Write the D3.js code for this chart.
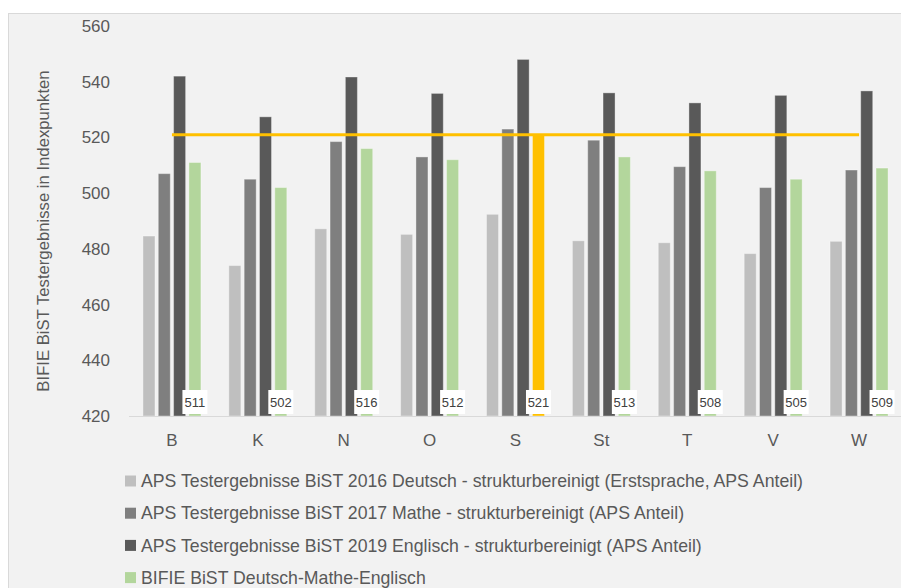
<!DOCTYPE html>
<html>
<head>
<meta charset="utf-8">
<script src="https://d3js.org/d3.v7.min.js"></script>
<style>
  html, body { margin: 0; padding: 0; background: #fff; }
  svg text { font-family: "Liberation Sans", Arial, sans-serif; }
</style>
</head>
<body>
<div id="chart"></div>
<script>
// data
const categories = ["B", "K", "N", "O", "S", "St", "T", "V", "W"];
const deutsch2016 = [484.6, 474.0, 487.2, 485.2, 492.4, 482.9, 482.2, 478.3, 482.7];
const mathe2017 = [507.0, 505.0, 518.5, 513.0, 523.0, 519.0, 509.5, 502.0, 508.3];
const englisch2019 = [542.0, 527.4, 541.7, 535.8, 548.0, 536.0, 532.4, 535.1, 536.7];
const bifie = [511, 502, 516, 512, 521, 513, 508, 505, 509];
const yTicks = [420, 440, 460, 480, 500, 520, 540, 560];
const highlight = "S";
const referenceValue = 521;

const seriesNames = [
  "APS Testergebnisse BiST 2016 Deutsch - strukturbereinigt (Erstsprache, APS Anteil)",
  "APS Testergebnisse BiST 2017 Mathe - strukturbereinigt (APS Anteil)",
  "APS Testergebnisse BiST 2019 Englisch - strukturbereinigt (APS Anteil)",
  "BIFIE BiST Deutsch-Mathe-Englisch"
];
const seriesColors = ["#bfbfbf", "#7f7f7f", "#595959", "#b3d69c"];
const highlightColor = "#ffc000";

const seriesValues = [deutsch2016, mathe2017, englisch2019, bifie];

const width = 901, height = 588;
const plot = { left: 129, right: 902, top: 26, bottom: 416 };

const svg = d3.select("#chart").append("svg")
  .attr("width", width)
  .attr("height", height);

// chart area background
svg.append("rect")
  .attr("x", 8.5).attr("y", 13.5)
  .attr("width", 920).attr("height", 600)
  .attr("fill", "#f2f2f2")
  .attr("stroke", "#d9d9d9");

const x0 = d3.scaleBand()
  .domain(categories)
  .range([plot.left, plot.right])
  .paddingInner(0.325)
  .paddingOuter(0.1625);

const x1 = d3.scaleBand()
  .domain(d3.range(seriesValues.length))
  .range([0, x0.bandwidth()])
  .paddingInner(0.216);

const y = d3.scaleLinear()
  .domain([420, 560])
  .range([plot.bottom, plot.top]);

// y axis labels
const yAxis = svg.append("g")
  .attr("transform", `translate(${plot.left}, 0)`)
  .call(d3.axisLeft(y).tickValues(yTicks).tickSize(0).tickPadding(19));
yAxis.select(".domain").remove();
yAxis.selectAll("text")
  .attr("fill", "#595959")
  .style("font-size", "17px");

// bars
const rows = categories.map((c, i) => ({ cat: c, values: seriesValues.map(s => s[i]) }));

const groups = svg.selectAll(".group")
  .data(rows)
  .enter().append("g")
  .attr("class", "group")
  .attr("transform", d => `translate(${x0(d.cat)}, 0)`);

groups.selectAll("rect")
  .data(d => d.values.map((v, k) => ({ cat: d.cat, k: k, v: v })))
  .enter().append("rect")
  .attr("x", d => x1(d.k))
  .attr("y", d => y(d.v))
  .attr("width", x1.bandwidth())
  .attr("height", d => y(420) - y(d.v))
  .attr("fill", d => (d.k === 3 && d.cat === highlight) ? highlightColor : seriesColors[d.k])
  .attr("stroke", "rgba(255,255,255,0.35)")
  .attr("stroke-width", 1);

// x axis line
svg.append("line")
  .attr("x1", plot.left).attr("x2", plot.right)
  .attr("y1", plot.bottom + 0.5).attr("y2", plot.bottom + 0.5)
  .attr("stroke", "#d9d9d9");

// x axis labels
const xAxis = svg.append("g")
  .attr("transform", `translate(0, ${plot.bottom})`)
  .call(d3.axisBottom(x0).tickSize(0).tickPadding(18));
xAxis.select(".domain").remove();
xAxis.selectAll("text")
  .attr("fill", "#595959")
  .style("font-size", "17px");

// reference line at the highlighted value
const xc = d => x0(d) + x0.bandwidth() / 2;
svg.append("line")
  .attr("x1", xc(categories[0]))
  .attr("x2", xc(categories[categories.length - 1]))
  .attr("y1", y(referenceValue))
  .attr("y2", y(referenceValue))
  .attr("stroke", highlightColor)
  .attr("stroke-width", 3);

// data labels for the BIFIE series
const labels = svg.selectAll(".dlabel")
  .data(categories.map((c, i) => ({ cat: c, v: bifie[i] })))
  .enter().append("g")
  .attr("class", "dlabel")
  .attr("transform", d => `translate(${x0(d.cat) + x1(3) + x1.bandwidth() / 2}, ${plot.bottom - 2})`);

labels.append("rect")
  .attr("x", -12.5).attr("y", -24)
  .attr("width", 25).attr("height", 24)
  .attr("fill", "#ffffff");

labels.append("text")
  .attr("x", 0).attr("y", -7)
  .attr("text-anchor", "middle")
  .attr("fill", "#404040")
  .style("font-size", "13px")
  .text(d => d.v);

// y axis title
svg.append("text")
  .attr("transform", "translate(49, 231) rotate(-90)")
  .attr("text-anchor", "middle")
  .attr("fill", "#595959")
  .style("font-size", "16.7px")
  .text("BIFIE BiST Testergebnisse  in Indexpunkten");

// legend
const legend = svg.selectAll(".legend")
  .data(seriesNames)
  .enter().append("g")
  .attr("class", "legend")
  .attr("transform", (d, i) => `translate(125, ${481 + i * 32.2})`);

legend.append("rect")
  .attr("x", 0).attr("y", -5.5)
  .attr("width", 11).attr("height", 11)
  .attr("fill", (d, i) => seriesColors[i]);

legend.append("text")
  .attr("x", 16).attr("y", 0)
  .attr("dy", "0.35em")
  .attr("fill", "#595959")
  .style("font-size", "17.7px")
  .text(d => d);
</script>
</body>
</html>
